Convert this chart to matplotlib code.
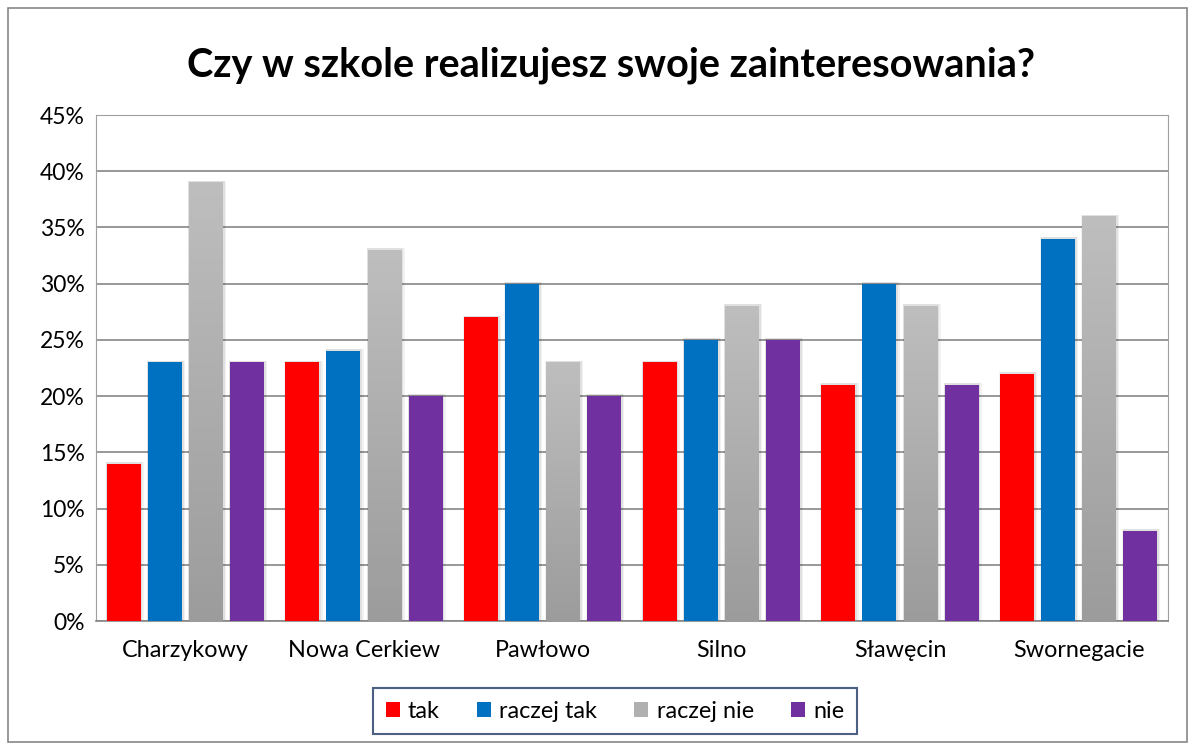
import matplotlib
matplotlib.use("Agg")
import matplotlib.pyplot as plt
import numpy as np
from matplotlib.patches import Rectangle, Patch
from matplotlib.colors import LinearSegmentedColormap

categories = ["Charzykowy", "Nowa Cerkiew", "Pawłowo", "Silno", "Sławęcin", "Swornegacie"]
series_names = ["tak", "raczej tak", "raczej nie", "nie"]
tak = [14, 23, 27, 23, 21, 22]
raczej_tak = [23, 24, 30, 25, 30, 34]
raczej_nie = [39, 33, 23, 28, 28, 36]
nie = [23, 20, 20, 25, 21, 8]
values = [tak, raczej_tak, raczej_nie, nie]
colors = ["#ff0000", "#0070c0", "#b0b0b0", "#7030a0"]
yticks = [0, 5, 10, 15, 20, 25, 30, 35, 40, 45]

plt.rcParams['font.family'] = ['Lato', 'DejaVu Sans']

fig = plt.figure(figsize=(11.95, 7.44), dpi=100)
# outer border
fig.patches.append(Rectangle((8/1195, 1-742/744), (1187-8)/1195, (742-8)/744,
                             transform=fig.transFigure, fill=False,
                             edgecolor="#868686", lw=1.2))
ax = fig.add_axes([96/1195, 1-621/744, (1168-96)/1195, (621-115)/744])

x = np.arange(len(categories))
w = 0.19
step = 0.23
offsets = (np.arange(4) - 1.5) * step
gray_cmap = LinearSegmentedColormap.from_list("g", ["#bebebe", "#9c9c9c"])
for i, (vals, col) in enumerate(zip(values, colors)):
    for xi, v in zip(x, vals):
        xc = xi + offsets[i]
        # soft shadow
        for d, a in [(0.018, 0.05), (0.010, 0.07)]:
            ax.add_patch(Rectangle((xc - w/2 - d*0.3, 0), w + d*1.3, v + 0.15, facecolor="#000000",
                                   alpha=a, lw=0, zorder=2))
        if i == 2:
            r = ax.bar(xc, v, width=w, color="none", zorder=3)[0]
            grad = np.linspace(0, 1, 256).reshape(-1, 1)
            im = ax.imshow(grad, cmap=gray_cmap, aspect="auto", origin="upper",
                           extent=(xc - w/2, xc + w/2, 0, v), zorder=3)
            im.set_clip_path(r)
        else:
            ax.bar(xc, v, width=w, color=col, zorder=3)

ax.set_xlim(-0.5, len(categories) - 0.5)
ax.set_ylim(0, 45)
ax.set_yticks(yticks)
ax.set_yticklabels([f"{t}%" for t in yticks], fontsize=16.5)
ax.set_xticks(x)
ax.set_xticklabels(categories, fontsize=16.8)
ax.tick_params(axis="both", length=0, pad=8)
ax.tick_params(axis="x", pad=14)
ax.yaxis.grid(True, color="#868686", lw=1.2, zorder=1)
ax.set_axisbelow(True)
for s in ["top", "right", "left"]:
    ax.spines[s].set_color("#a0a0a0")
    ax.spines[s].set_linewidth(0.8)
ax.spines["bottom"].set_color("#868686")
ax.spines["bottom"].set_linewidth(1.2)

fig.text(611/1195, 1 - 65/744, "Czy w szkole realizujesz swoje zainteresowania?",
         ha="center", va="center", fontsize=28.5, fontweight="bold")

handles = [Patch(facecolor=c, edgecolor="none") for c in colors]
leg = fig.legend(handles, series_names, loc="center", ncol=4,
                 bbox_to_anchor=(615/1195, 1 - 711/744), fontsize=16.8,
                 frameon=True, fancybox=False, handlelength=0.6, handleheight=0.6,
                 handletextpad=0.35, columnspacing=1.6, borderpad=0.55, borderaxespad=0)
leg.get_frame().set_edgecolor("#1f3864")
leg.get_frame().set_linewidth(1.5)

fig.savefig("out.png", dpi=100)
